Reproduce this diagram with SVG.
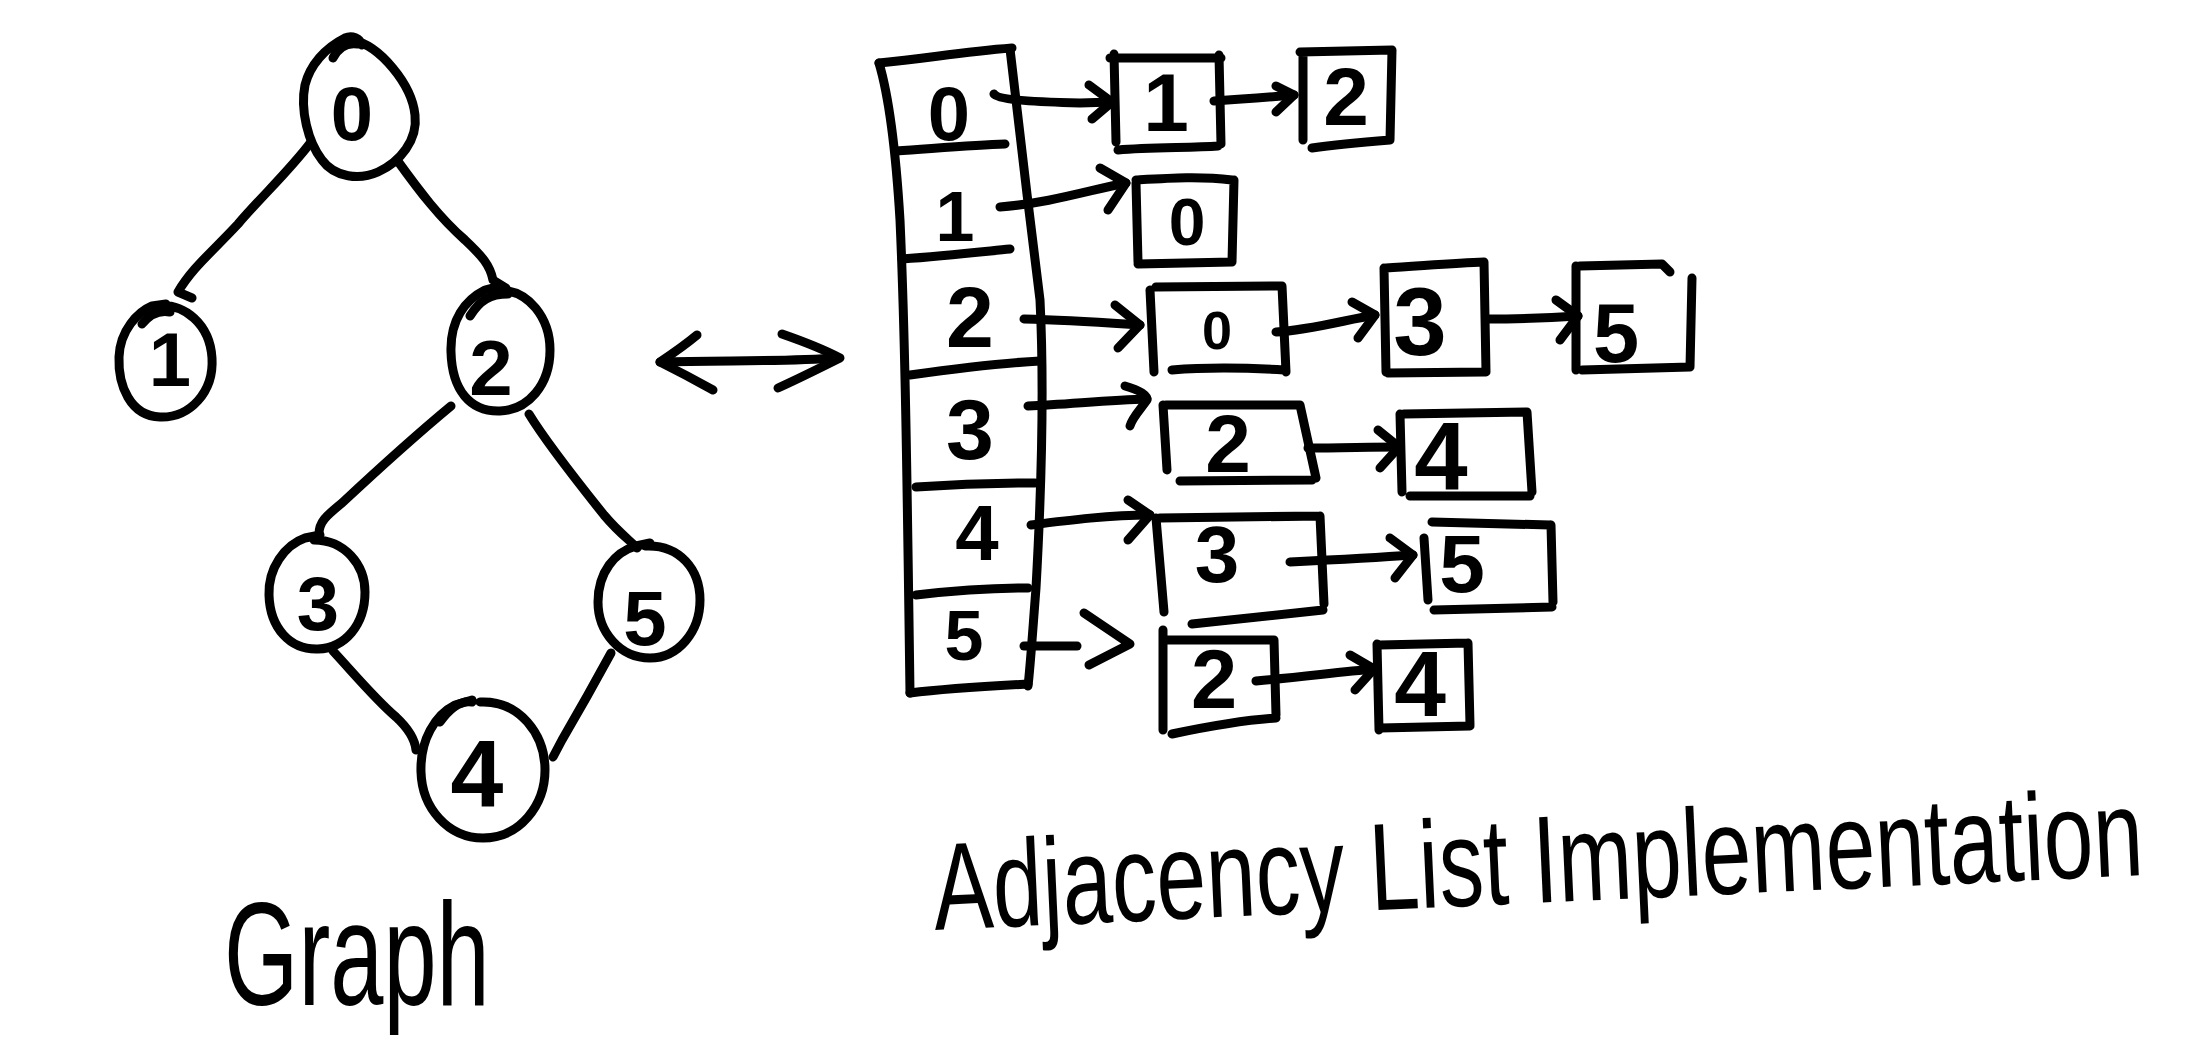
<svg xmlns="http://www.w3.org/2000/svg" width="2194" height="1056" viewBox="0 0 2194 1056">
  <style>
    .ink { fill: none; stroke: #000; stroke-width: 9; stroke-linecap: round; stroke-linejoin: round; }
    .num { font-family: "Liberation Sans", Arial, sans-serif; font-weight: bold; text-anchor: middle; fill: #000; }
    .hand { font-family: "Liberation Sans", Arial, sans-serif; fill: #000; }
  </style>
  <rect width="2194" height="1056" fill="#fff"/>

  <!-- graph edges -->
  <g id="graph-edges" class="ink">
    <path d="M311 142 C290 170 262 196 238 224 C212 252 192 268 178 292 L192 298"/>
    <path d="M397 160 C420 192 440 218 465 240 C482 256 490 265 493 280 L506 288"/>
    <path d="M451 406 C410 440 372 475 342 503 C326 516 319 522 319 534"/>
    <path d="M529 414 C546 442 576 480 604 515 C620 534 632 542 637 548"/>
    <path d="M333 651 C356 676 376 700 396 717 C410 730 415 740 416 750"/>
    <path d="M611 653 C592 688 576 716 562 740 L553 757"/>
  </g>

  <!-- graph nodes -->
  <g id="node-g0">
    <path class="ink" d="M352 40 C380 45 412 85 415 115 C418 140 400 162 378 172 C360 180 335 178 322 160 C308 142 300 110 305 85 C310 65 325 48 345 38 C352 35 360 38 362 45"/>
    <path class="ink" d="M333 58 C338 48 346 42 358 44"/>
    <text class="num" x="352" y="140" font-size="76">0</text>
  </g>
  <g id="node-g1">
    <path class="ink" d="M155 306 C185 302 210 325 212 358 C214 392 190 418 160 417 C130 416 118 385 119 357 C120 330 138 312 152 306 L166 304"/>
    <path class="ink" d="M142 324 C150 314 160 310 170 312"/>
    <text class="num" x="170" y="386" font-size="76">1</text>
  </g>
  <g id="node-g2">
    <path class="ink" d="M495 290 C530 288 550 320 550 350 C550 385 528 410 500 411 C470 412 452 390 451 352 C450 320 465 300 485 290 L500 286"/>
    <path class="ink" d="M470 316 C480 300 490 294 508 294"/>
    <text class="num" x="491" y="395" font-size="78">2</text>
  </g>
  <g id="node-g3">
    <path class="ink" d="M314 540 C345 540 365 565 365 592 C365 625 345 648 318 649 C290 650 270 628 269 595 C268 568 285 545 305 538 L320 535"/>
    <text class="num" x="318" y="630" font-size="76">3</text>
  </g>
  <g id="node-g5">
    <path class="ink" d="M645 546 C680 544 700 570 700 600 C700 632 678 658 650 658 C620 658 598 632 598 602 C598 572 615 552 636 546 L650 543"/>
    <text class="num" x="645" y="645" font-size="78">5</text>
  </g>
  <g id="node-g4">
    <path class="ink" d="M480 702 C520 700 545 735 545 770 C545 805 520 838 483 838 C448 838 422 808 421 772 C420 740 435 715 455 705 L472 700"/>
    <path class="ink" d="M440 722 C450 708 460 700 472 702"/>
    <text class="num" x="477" y="806" font-size="95">4</text>
  </g>

  <!-- double-headed arrow between the two views -->
  <g id="link-arrow" class="ink">
    <path d="M660 362 C720 360 780 362 838 358"/>
    <path d="M697 335 C685 345 675 352 660 362 C680 372 695 380 713 390"/>
    <path d="M782 334 C805 342 825 350 840 358 C820 368 800 378 778 388"/>
  </g>

  <!-- adjacency array column -->
  <g id="array">
    <path class="ink" d="M879 63 C930 58 960 52 1012 48"/>
    <path class="ink" d="M879 63 C890 100 896 154 900 220 C905 330 907 470 910 693"/>
    <path class="ink" d="M1010 49 C1018 120 1030 220 1040 300 C1044 380 1042 480 1036 588 C1032 640 1030 670 1028 686"/>
    <path class="ink" d="M910 693 C950 688 990 686 1028 684"/>
    <path class="ink" d="M896 151 C940 148 975 145 1005 144"/>
    <path class="ink" d="M902 259 C945 256 980 252 1010 249"/>
    <path class="ink" d="M910 375 C960 368 1000 363 1040 361"/>
    <path class="ink" d="M916 487 C960 484 1000 483 1035 483"/>
    <path class="ink" d="M916 595 C960 590 1000 588 1028 588"/>
    <text class="num" x="949" y="140" font-size="76">0</text>
    <text class="num" x="955" y="241" font-size="70">1</text>
    <text class="num" x="970" y="347" font-size="86">2</text>
    <text class="num" x="970" y="459" font-size="86">3</text>
    <text class="num" x="977" y="560" font-size="78">4</text>
    <text class="num" x="964" y="660" font-size="70">5</text>
  </g>

  <!-- list connectors -->
  <g id="list-arrows" class="ink">
    <path d="M994 94 C998 100 1040 102 1080 103 L1112 102"/>
    <path d="M1089 85 L1112 102 L1092 119"/>
    <path d="M1214 101 C1245 99 1270 97 1294 95"/>
    <path d="M1276 86 L1294 95 L1276 112"/>

    <path d="M1000 207 C1050 203 1090 190 1126 183"/>
    <path d="M1100 168 L1126 183 L1108 210"/>

    <path d="M1024 319 C1070 320 1110 323 1140 325"/>
    <path d="M1115 305 L1140 325 L1118 348"/>
    <path d="M1276 332 C1310 330 1345 320 1375 315"/>
    <path d="M1352 302 L1375 315 L1358 338"/>
    <path d="M1486 319 C1520 319 1550 318 1578 316"/>
    <path d="M1556 300 L1578 316 L1560 340"/>

    <path d="M1028 406 C1070 404 1110 400 1147 399"/>
    <path d="M1125 386 C1140 390 1148 396 1147 400 C1140 410 1132 418 1130 426"/>
    <path d="M1308 448 C1340 448 1370 447 1399 447"/>
    <path d="M1378 430 L1399 447 L1380 468"/>

    <path d="M1031 525 C1070 520 1110 515 1150 515"/>
    <path d="M1128 500 L1150 515 L1128 540"/>
    <path d="M1290 562 C1330 560 1370 558 1413 555"/>
    <path d="M1390 538 L1413 555 L1395 578"/>

    <path d="M1024 646 C1045 646 1062 646 1077 646"/>
    <path d="M1084 613 L1130 644 L1089 665"/>
    <path d="M1256 681 C1300 677 1340 672 1374 669"/>
    <path d="M1350 655 L1374 669 L1355 690"/>
  </g>

  <!-- list nodes, row 0 -->
  <g id="list-0-1">
    <path class="ink" d="M1114 54 L1116 142 M1110 58 L1221 58 M1219 55 L1221 144 M1118 150 C1150 147 1190 148 1218 146"/>
    <text class="num" x="1166" y="131" font-size="82">1</text>
  </g>
  <g id="list-0-2">
    <path class="ink" d="M1303 52 L1303 140 M1300 52 L1392 50 M1392 50 L1390 140 M1312 148 C1340 144 1365 142 1390 140"/>
    <text class="num" x="1346" y="125" font-size="82">2</text>
  </g>
  <!-- row 1 -->
  <g id="list-1-0">
    <path class="ink" d="M1136 183 L1138 262 M1136 180 C1170 178 1200 176 1232 180 M1234 180 L1232 262 M1138 264 L1232 262"/>
    <text class="num" x="1187" y="245" font-size="66">0</text>
  </g>
  <!-- row 2 -->
  <g id="list-2-0">
    <path class="ink" d="M1150 290 L1154 372 M1156 287 L1282 286 M1282 286 L1286 372 M1172 370 C1210 367 1250 368 1284 370"/>
    <text class="num" x="1217" y="349" font-size="54">0</text>
  </g>
  <g id="list-2-3">
    <path class="ink" d="M1384 268 L1386 372 M1386 268 C1420 266 1455 263 1484 262 M1484 262 L1486 372 M1388 373 L1484 372"/>
    <text class="num" x="1420" y="355" font-size="96">3</text>
  </g>
  <g id="list-2-5">
    <path class="ink" d="M1576 266 L1576 370 M1580 266 L1662 264 L1670 272 M1692 278 L1690 367 M1582 370 L1690 367"/>
    <text class="num" x="1616" y="362" font-size="83">5</text>
  </g>
  <!-- row 3 -->
  <g id="list-3-2">
    <path class="ink" d="M1163 405 L1167 470 M1166 405 L1300 405 M1300 405 L1316 478 M1180 481 L1312 480"/>
    <text class="num" x="1228" y="472" font-size="82">2</text>
  </g>
  <g id="list-3-4">
    <path class="ink" d="M1400 414 L1402 492 M1404 414 L1527 412 M1527 412 L1532 492 M1410 496 L1530 496"/>
    <text class="num" x="1441" y="490" font-size="96">4</text>
  </g>
  <!-- row 4 -->
  <g id="list-4-3">
    <path class="ink" d="M1156 518 L1164 612 M1160 518 L1320 516 M1320 516 L1324 604 M1192 624 L1323 610"/>
    <text class="num" x="1217" y="582" font-size="80">3</text>
  </g>
  <g id="list-4-5">
    <path class="ink" d="M1424 538 L1428 600 M1432 522 L1550 525 M1551 525 L1553 602 M1434 610 L1552 607"/>
    <text class="num" x="1462" y="592" font-size="82">5</text>
  </g>
  <!-- row 5 -->
  <g id="list-5-2">
    <path class="ink" d="M1163 630 L1163 730 M1166 640 L1274 640 M1274 640 L1276 715 M1172 734 C1210 726 1245 720 1276 718"/>
    <text class="num" x="1214" y="708" font-size="83">2</text>
  </g>
  <g id="list-5-4">
    <path class="ink" d="M1377 644 L1379 730 M1380 645 L1468 643 M1468 643 L1470 725 M1380 728 L1470 726"/>
    <text class="num" x="1420" y="716" font-size="93">4</text>
  </g>

  <!-- captions: narrow hand-lettered look via horizontal squeeze -->
  <text class="hand" font-size="146" transform="translate(224 1005) scale(0.655 1)">Graph</text>
  <text class="hand" font-size="124" transform="translate(935 930) rotate(-2.6) scale(0.72 1)">Adjacency List Implementation</text>
</svg>
